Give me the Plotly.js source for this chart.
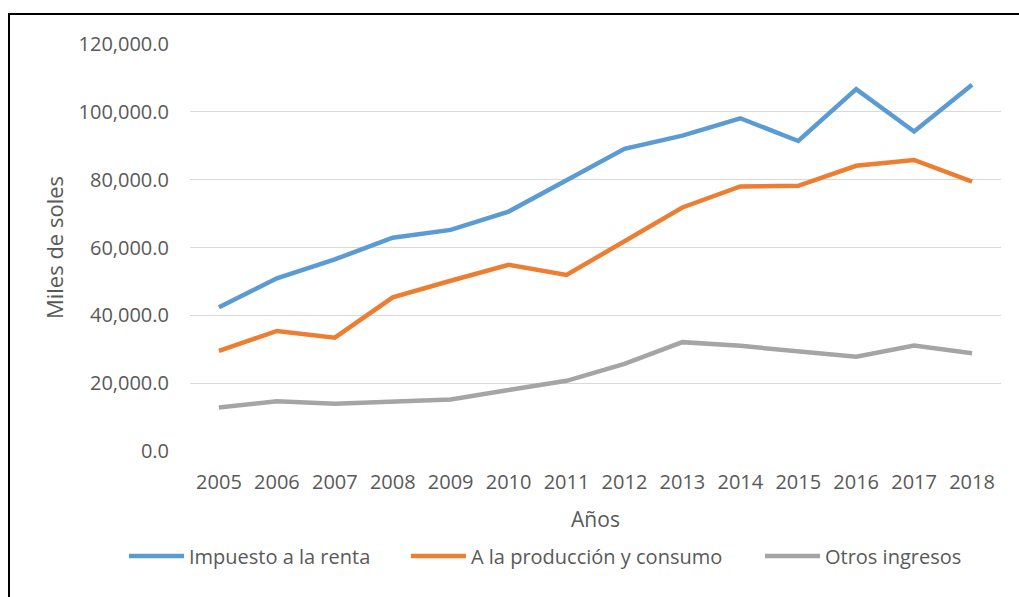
<!DOCTYPE html>
<html>
<head>
<meta charset="utf-8">
<script src="https://cdn.plot.ly/plotly-3.0.1.min.js"></script>
<style>
  html, body { margin: 0; padding: 0; background: #fff; }
  #wrap { position: relative; width: 1019px; height: 597px; overflow: hidden; }
  #chart { position: absolute; left: 0; top: 0; width: 1019px; height: 597px; }
  #frame { position: absolute; left: 8px; top: 13px; width: 1100px; height: 700px;
           border-left: 2px solid #000; border-top: 2px solid #000; pointer-events: none; }
</style>
</head>
<body>
<div id="wrap">
  <div id="chart"></div>
  <div id="frame"></div>
</div>
<script>
const years = ['2005','2006','2007','2008','2009','2010','2011','2012','2013','2014','2015','2016','2017','2018'];
const impuestoRenta = [42400, 50900, 56500, 62900, 65200, 70600, 79800, 89100, 93000, 98100, 91400, 106700, 94200, 108000];
const produccionConsumo = [29500, 35400, 33400, 45300, 50200, 54900, 51900, 61700, 71800, 78000, 78200, 84100, 85800, 79400];
const otrosIngresos = [12800, 14700, 13900, 14500, 15200, 18000, 20700, 25700, 32100, 31000, 29500, 27800, 31100, 28800];
const seriesNames = ['Impuesto a la renta', 'A la producción y consumo', 'Otros ingresos'];
const seriesColors = ['#5B9BD5', '#ED7D31', '#A5A5A5'];

const FONT = 'Open Sans, Noto Sans, sans-serif';
const values = [impuestoRenta, produccionConsumo, otrosIngresos];
const legendIds = ['legend', 'legend2', 'legend3'];
const traces = values.map((v, i) => ({
  type: 'scatter', mode: 'lines', x: years, y: v, name: seriesNames[i],
  legend: legendIds[i],
  line: { color: seriesColors[i], width: 4.5 }
}));

function legendAt(x) {
  return {
    orientation: 'h', x: x, xanchor: 'left', y: -0.258, yanchor: 'middle',
    font: { family: FONT, size: 20, color: '#595959' },
    itemwidth: 55, bgcolor: 'rgba(0,0,0,0)'
  };
}

const layout = {
  width: 1019, height: 597,
  margin: { l: 190, r: 18, t: 44, b: 146 },
  paper_bgcolor: 'rgba(0,0,0,0)', plot_bgcolor: '#fff',
  font: { family: FONT, size: 20, color: '#595959' },
  showlegend: true,
  legend: legendAt(-0.0814),
  legend2: legendAt(0.2663),
  legend3: legendAt(0.7028),
  xaxis: {
    type: 'category', range: [-0.5, 13.5], showgrid: false, zeroline: false,
    showline: false, ticks: '', ticklabelstandoff: 17,
    tickfont: { family: FONT, size: 20, color: '#595959' },
    title: { text: 'Años', font: { family: FONT, size: 21, color: '#595959' }, standoff: 18 }
  },
  yaxis: {
    range: [0, 120000], tickvals: [0, 20000, 40000, 60000, 80000, 100000, 120000],
    tickformat: ',.1f', showgrid: true, gridcolor: '#D9D9D9', gridwidth: 1.3,
    zeroline: false, showline: false, ticks: '', ticklabelstandoff: 20,
    tickfont: { family: FONT, size: 20, color: '#595959' },
    title: { text: 'Miles de soles', font: { family: FONT, size: 22, color: '#595959' }, standoff: 8 }
  }
};

Plotly.newPlot('chart', traces, layout, { displayModeBar: false, staticPlot: true });
</script>
</body>
</html>
